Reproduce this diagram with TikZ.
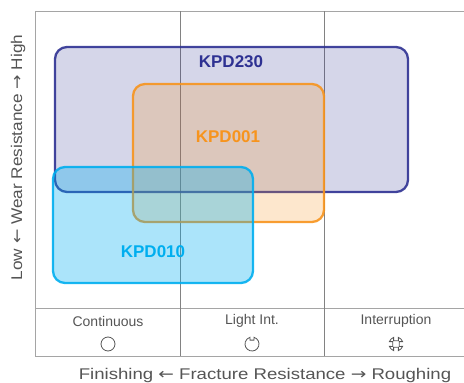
\documentclass[tikz,border=0pt]{standalone}
\usepackage{fontspec}
\setmainfont{Liberation Sans}
\newfontfamily\arrowfont{DejaVu Sans}
\usetikzlibrary{calc}
\definecolor{navy}{RGB}{46,49,146}
\definecolor{orng}{RGB}{247,148,29}
\definecolor{cyn}{RGB}{0,174,239}
\definecolor{framegray}{RGB}{165,165,165}
\definecolor{divgray}{RGB}{130,130,130}
\definecolor{txtgray}{RGB}{85,85,85}
\newcommand{\larr}{{\arrowfont ←}}
\newcommand{\rarr}{{\arrowfont →}}
\tikzset{
  region/.style={rounded corners=12pt, line width=2.3pt, inner sep=0pt, draw opacity=0.9},
  plabel/.style={font=\fontsize{17}{20}\selectfont\bfseries, inner sep=0pt},
  rowlabel/.style={font=\fontsize{14}{16}\selectfont, text=txtgray, inner sep=0pt},
  axislabel/.style={font=\fontsize{15.5}{18}\selectfont, text=txtgray, inner sep=0pt},
  icon/.style={draw=txtgray, line width=0.8pt}
}
\begin{document}
\begin{tikzpicture}[x=1pt,y=-1pt]
\useasboundingbox (0,0) rectangle (464,383);
% frame
\draw[framegray, line width=1pt] (464,11) -- (35,11) -- (35,356) -- (464,356);
\draw[framegray, line width=1pt] (35,308) -- (464,308);
\draw[divgray, line width=0.9pt] (180,11) -- (180,356);
\draw[divgray, line width=0.9pt] (324,11) -- (324,356);
% regions
\node[region, draw=navy, fill=navy, fill opacity=0.2, minimum width=353pt, minimum height=145pt] (r230) at (231.5,119.5) {};
\node[region, draw=orng, fill=orng, fill opacity=0.22, minimum width=191pt, minimum height=138pt] (r001) at (228.5,153) {};
\node[region, draw=cyn, fill=cyn, fill opacity=0.33, minimum width=200pt, minimum height=116pt] (r010) at (153,225) {};
% labels
\node[plabel, text=navy] (l230) at (231,62) {KPD230};
\node[plabel, text=orng] (l001) at (228,137) {KPD001};
\node[plabel, text=cyn] (l010) at (153,251.5) {KPD010};
% row labels
\node[rowlabel] (c1) at (108,321) {Continuous};
\node[rowlabel] (c2) at (252,321) {Light Int.};
\node[rowlabel] (c3) at (396,321) {Interruption};
% icons
\draw[icon] (108,344) circle (7pt);
\begin{scope}[shift={(252,344)}, yscale=-1]
\draw[icon] (73:7) arc[start angle=73, end angle=-253, radius=7] -- (-2,3.9) -- (2,3.9) -- cycle;
\end{scope}
\begin{scope}[shift={(396,344)}, yscale=-1]
\draw[icon] (20:7) arc[start angle=20, end angle=70, radius=7] -- (2.4,3.2) -- (-2.4,3.2) -- (110:7)
  arc[start angle=110, end angle=160, radius=7] -- (-3.2,2.4) -- (-3.2,-2.4) -- (200:7)
  arc[start angle=200, end angle=250, radius=7] -- (-2.4,-3.2) -- (2.4,-3.2) -- (290:7)
  arc[start angle=290, end angle=340, radius=7] -- (3.2,-2.4) -- (3.2,2.4) -- cycle;
\end{scope}
% axis labels
\node[axislabel] (xl) at (265,375) {\scalebox{1.2}[1]{Finishing \larr{} Fracture Resistance \rarr{} Roughing}};
\node[axislabel, rotate=90] (yl) at (18,157.5) {\scalebox{1.11}[1]{Low \larr{} Wear Resistance \rarr{} High}};
\end{tikzpicture}
\end{document}
